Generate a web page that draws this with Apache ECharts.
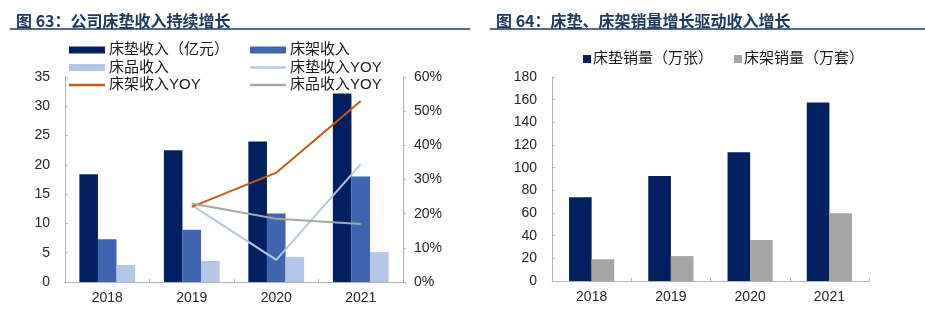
<!DOCTYPE html>
<html>
<head>
<meta charset="utf-8">
<script src="https://cdn.jsdelivr.net/npm/echarts@6/dist/echarts.min.js"></script>
<style>
  html, body { margin: 0; padding: 0; background: #ffffff; }
  #chart { width: 925px; height: 322px; }
</style>
</head>
<body>
<div id="chart"></div>
<script>
// Years shared by both panels
const categories = ['2018', '2019', '2020', '2021'];

// Fig. 63: revenue by product line (亿元) and YoY growth (%)
const mattressRevenue = [18.4, 22.5, 24.0, 32.2];
const bedFrameRevenue = [7.3, 8.9, 11.7, 18.0];
const beddingRevenue = [2.9, 3.6, 4.3, 5.1];
const mattressYoY = [null, 22.5, 6.5, 34.5];
const bedFrameYoY = [null, 22.0, 32.0, 53.0];
const beddingYoY = [null, 23.0, 18.5, 17.0];

// Fig. 64: sales volume
const mattressVolume = [74, 92.6, 113.5, 157.5];
const bedFrameVolume = [19.2, 22, 36.2, 59.8];

const leftTicks = [0, 5, 10, 15, 20, 25, 30, 35];
const pctTicks = [0, 10, 20, 30, 40, 50, 60];
const volumeTicks = [0, 20, 40, 60, 80, 100, 120, 140, 160, 180];

const NAVY = '#022060';
const MID_BLUE = '#3E65AD';
const LIGHT_BLUE = '#B4C7E7';
const ORANGE = '#C55A11';
const GREY_LINE = '#A6A6A6';
const GREY_BAR = '#A5A5A5';
const AXIS = '#B3B3B3';
const TITLE = '#1F3864';

const cjk = '"Liberation Sans", Arial, "Noto Sans CJK SC", sans-serif';
const textStyle = { fontFamily: cjk, fontSize: 15, color: '#1a1a1a', lineHeight: 16 };
const axisText = { fontFamily: cjk, fontSize: 14, color: '#262626' };

function legendItem(name, left, centerY, w, h) {
  return {
    data: [name],
    left: left,
    top: centerY - 8,
    orient: 'horizontal',
    icon: 'rect',
    itemWidth: w,
    itemHeight: h,
    itemGap: 0,
    padding: 0,
    textStyle: Object.assign({ padding: [0, 0, 0, -1] }, textStyle),
    selectedMode: false
  };
}

function valueAxis(grid, ticks, opts) {
  return Object.assign({
    type: 'value',
    gridIndex: grid,
    min: ticks[0],
    max: ticks[ticks.length - 1],
    interval: ticks[1] - ticks[0],
    splitLine: { show: false },
    axisLine: { show: true, lineStyle: { color: AXIS, width: 1 } },
    axisTick: { show: true, inside: true, length: 3, lineStyle: { color: AXIS } },
    axisLabel: Object.assign({ margin: 15 }, axisText)
  }, opts || {});
}

function categoryAxis(grid) {
  return {
    type: 'category',
    gridIndex: grid,
    data: categories,
    axisLine: { lineStyle: { color: AXIS, width: 1 } },
    axisTick: { show: true, inside: true, length: 3, alignWithLabel: false, lineStyle: { color: AXIS } },
    axisLabel: Object.assign({ margin: 9 }, axisText)
  };
}

const option = {
  backgroundColor: '#ffffff',
  animation: false,
  title: [
    {
      text: '图 63：公司床垫收入持续增长',
      left: 11, top: 8,
      textStyle: { fontFamily: '"Noto Sans CJK SC", sans-serif', fontSize: 16, fontWeight: 'bold', color: TITLE }
    },
    {
      text: '图 64：床垫、床架销量增长驱动收入增长',
      left: 491, top: 8,
      textStyle: { fontFamily: '"Noto Sans CJK SC", sans-serif', fontSize: 16, fontWeight: 'bold', color: TITLE }
    }
  ],
  graphic: [
    { type: 'line', shape: { x1: 10, y1: 29, x2: 470, y2: 29 }, style: { stroke: TITLE, lineWidth: 1.5 } },
    { type: 'line', shape: { x1: 490, y1: 29, x2: 925, y2: 29 }, style: { stroke: TITLE, lineWidth: 1.5 } }
  ],
  legend: [
    legendItem('床垫收入（亿元）', 69, 50, 36, 7),
    legendItem('床品收入', 69, 67.5, 36, 7),
    legendItem('床架收入YOY', 69, 85, 36, 2.5),
    legendItem('床架收入', 250, 50, 36, 7),
    legendItem('床垫收入YOY', 250, 67.5, 36, 2.5),
    legendItem('床品收入YOY', 250, 85, 36, 2.5),
    Object.assign(legendItem('床垫销量（万张）', 583, 59, 8, 8), { textStyle: Object.assign({ padding: [0, 0, 0, -3] }, textStyle) }),
    Object.assign(legendItem('床架销量（万套）', 734, 59, 8, 8), { textStyle: Object.assign({ padding: [0, 0, 0, -3] }, textStyle) })
  ],
  grid: [
    { left: 65, right: 522, top: 77, bottom: 40 },
    { left: 552, right: 56, top: 77, bottom: 41 }
  ],
  xAxis: [categoryAxis(0), categoryAxis(1)],
  yAxis: [
    valueAxis(0, leftTicks),
    valueAxis(0, pctTicks, {
      position: 'right',
      axisTick: { show: true, inside: false, length: 3, lineStyle: { color: AXIS } },
      axisLabel: Object.assign({ margin: 11, formatter: '{value}%' }, axisText)
    }),
    valueAxis(1, volumeTicks)
  ],
  series: [
    { name: '床垫收入（亿元）', type: 'bar', xAxisIndex: 0, yAxisIndex: 0, data: mattressRevenue,
      itemStyle: { color: NAVY }, barGap: '0%', barCategoryGap: '34%' },
    { name: '床架收入', type: 'bar', xAxisIndex: 0, yAxisIndex: 0, data: bedFrameRevenue,
      itemStyle: { color: MID_BLUE }, barGap: '0%', barCategoryGap: '34%' },
    { name: '床品收入', type: 'bar', xAxisIndex: 0, yAxisIndex: 0, data: beddingRevenue,
      itemStyle: { color: LIGHT_BLUE }, barGap: '0%', barCategoryGap: '34%' },
    { name: '床垫收入YOY', type: 'line', xAxisIndex: 0, yAxisIndex: 1, data: mattressYoY,
      symbol: 'none', lineStyle: { color: LIGHT_BLUE, width: 2 }, itemStyle: { color: LIGHT_BLUE } },
    { name: '床架收入YOY', type: 'line', xAxisIndex: 0, yAxisIndex: 1, data: bedFrameYoY,
      symbol: 'none', lineStyle: { color: ORANGE, width: 2 }, itemStyle: { color: ORANGE } },
    { name: '床品收入YOY', type: 'line', xAxisIndex: 0, yAxisIndex: 1, data: beddingYoY,
      symbol: 'none', lineStyle: { color: GREY_LINE, width: 2 }, itemStyle: { color: GREY_LINE } },
    { name: '床垫销量（万张）', type: 'bar', xAxisIndex: 1, yAxisIndex: 2, data: mattressVolume,
      itemStyle: { color: NAVY }, barGap: '0%', barCategoryGap: '43%' },
    { name: '床架销量（万套）', type: 'bar', xAxisIndex: 1, yAxisIndex: 2, data: bedFrameVolume,
      itemStyle: { color: GREY_BAR }, barGap: '0%', barCategoryGap: '43%' }
  ]
};

const chart = echarts.init(document.getElementById('chart'), null, { renderer: 'canvas' });
chart.setOption(option);
</script>
</body>
</html>
